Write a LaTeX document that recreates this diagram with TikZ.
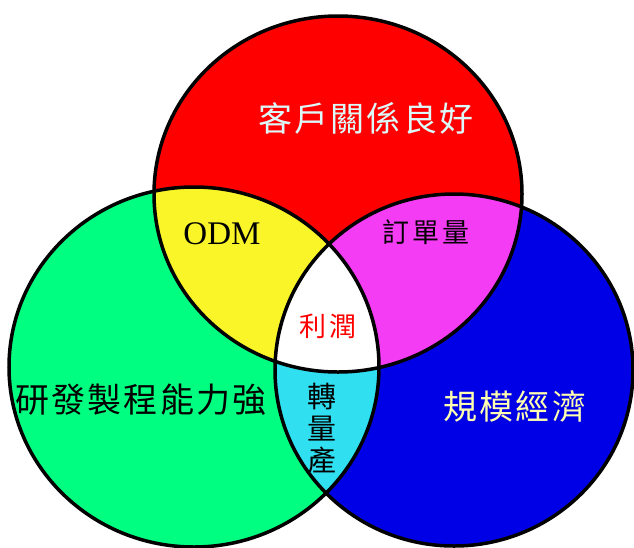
\documentclass[tikz,border=0pt]{standalone}
\usepackage{fontspec}
\setmainfont{Liberation Serif}
\newfontfamily\cjkbig[LetterSpace=6]{Noto Sans CJK TC}
\newfontfamily\cjkmid[LetterSpace=11]{Noto Sans CJK TC}
\definecolor{cRed}{RGB}{255,0,0}
\definecolor{cGreen}{RGB}{0,255,128}
\definecolor{cBlue}{RGB}{0,0,230}
\definecolor{cYellow}{RGB}{250,245,40}
\definecolor{cMagenta}{RGB}{245,60,245}
\definecolor{cCyan}{RGB}{48,224,240}
\definecolor{tCyan}{RGB}{220,250,250}
\definecolor{tYellow}{RGB}{255,255,176}
\tikzset{
  outline/.style={draw=black, line width=3.5pt},
  big/.style={font=\cjkbig\fontsize{34}{36}\selectfont},
  mid/.style={font=\cjkmid\fontsize{27}{30}\selectfont},
}
\begin{document}
\begin{tikzpicture}[x=1pt,y=-1pt]
\useasboundingbox (0,0) rectangle (634,547);
\fill[white] (0,0) rectangle (634,547);
\def\G{(194,367) ellipse [x radius=185pt, y radius=180pt]}
\def\R{(338,194) ellipse [x radius=184pt, y radius=178pt]}
\def\B{(454,370) ellipse [x radius=179pt, y radius=176pt]}
\fill[cGreen] \G;
\fill[cBlue] \B;
\fill[cRed] \R;
\begin{scope}\clip \R; \fill[cYellow] \G; \end{scope}
\begin{scope}\clip \R; \fill[cMagenta] \B; \end{scope}
\begin{scope}\clip \G; \fill[cCyan] \B; \end{scope}
\begin{scope}\clip \G; \clip \R; \fill[white] \B; \end{scope}
\path[outline] \G;
\path[outline] \R;
\path[outline] \B;
\node[big, text=tCyan] (kehu) at (366,118) {客戶關係良好};
\node[font=\fontsize{33}{36}\selectfont] (odm) at (222,234) {ODM};
\node[mid] (dingdan) at (426,232) {訂單量};
\node[mid, text=red] (lirun) at (328,326) {利潤};
\node[font=\cjkbig\fontsize{29}{32}\selectfont, align=center] (zhuan) at (322,429) {轉\\量\\產};
\node[big] (yanfa) at (141,400) {研發製程能力強};
\node[big, text=tYellow] (guimo) at (515,406) {規模經濟};
\end{tikzpicture}
\end{document}
